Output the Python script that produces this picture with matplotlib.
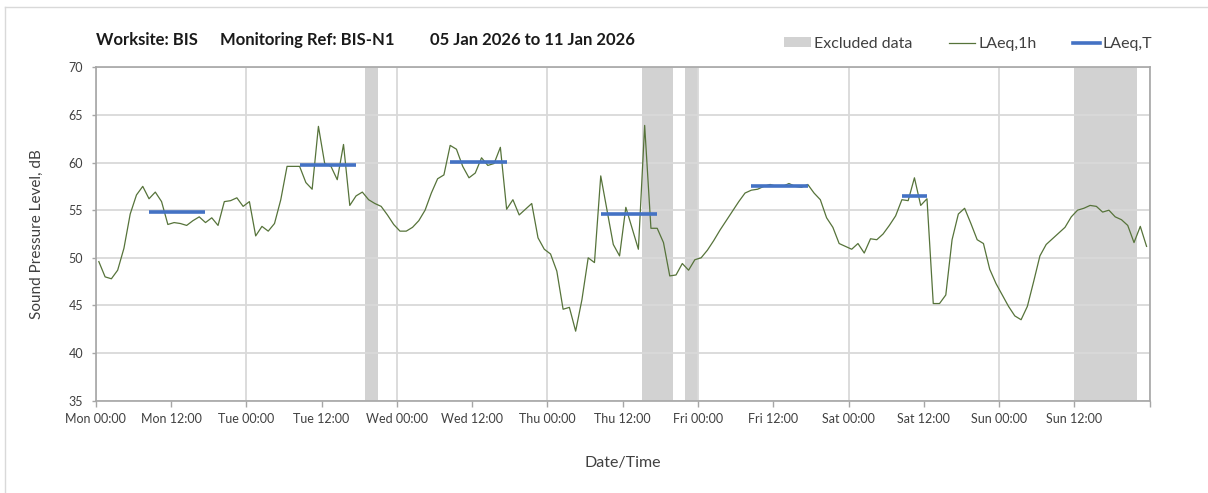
import matplotlib
matplotlib.use("Agg")
import matplotlib.pyplot as plt
from matplotlib.patches import Patch
from matplotlib.lines import Line2D
import numpy as np

plt.rcParams['font.family'] = ['Lato', 'DejaVu Sans']

# ---- data (hourly LAeq,1h, dB) ----
mon = [49.6, 48.0, 47.8, 48.7, 51.0, 54.6, 56.6, 57.5, 56.2, 56.9, 55.9, 53.5,
       53.7, 53.6, 53.4, 53.9, 54.3, 53.7, 54.2, 53.4, 55.9, 56.0, 56.3, 55.4]
tue = [55.9, 52.3, 53.3, 52.8, 53.6, 56.1, 59.6, 59.6, 59.6, 57.9, 57.2, 63.8,
       59.9, 59.6, 58.2, 61.9, 55.5, 56.5, 56.9, 56.1, 55.7, 55.4, 54.5, 53.5]
wed = [52.8, 52.8, 53.2, 53.9, 55.0, 56.8, 58.3, 58.7, 61.8, 61.4, 59.6, 58.4,
       58.9, 60.5, 59.7, 59.9, 61.6, 55.1, 56.1, 54.5, 55.1, 55.7, 52.1, 50.9]
thu = [50.4, 48.6, 44.6, 44.8, 42.3, 45.6, 50.0, 49.5, 58.6, 55.0, 51.4, 50.2,
       55.3, 53.1, 50.9, 63.9, 53.1, 53.1, 51.6, 48.1, 48.2, 49.4, 48.7, 49.8]
fri = [50.0, 50.8, 51.8, 52.9, 53.9, 54.9, 55.9, 56.8, 57.1, 57.2, 57.5, 57.7,
       57.5, 57.5, 57.8, 57.5, 57.4, 57.7, 56.8, 56.1, 54.2, 53.2, 51.5, 51.2]
sat = [50.9, 51.5, 50.5, 52.0, 51.9, 52.5, 53.4, 54.4, 56.1, 56.0, 58.4, 55.5,
       56.2, 45.2, 45.2, 46.1, 51.9, 54.6, 55.2, 53.6, 51.9, 51.5, 48.8, 47.3]
sun = [46.1, 44.9, 43.9, 43.5, 44.9, 47.5, 50.2, 51.4, 52.0, 52.6, 53.2, 54.3,
       55.0, 55.2, 55.5, 55.4, 54.8, 55.0, 54.3, 54.0, 53.4, 51.6, 53.3, 51.2]

# LAeq,T periods (start hour index, end hour index, level)
laeqT_start = [8, 32, 56, 80, 104, 128]
laeqT_end = [17, 41, 65, 89, 113, 132]
laeqT_value = [54.8, 59.7, 60.1, 54.6, 57.5, 56.5]

# excluded data periods (hours from Mon 00:00)
excl_start = [43, 87, 94, 156]
excl_end = [45, 92, 96, 166]

tick_labels = ["Mon 00:00", "Mon 12:00", "Tue 00:00", "Tue 12:00", "Wed 00:00",
               "Wed 12:00", "Thu 00:00", "Thu 12:00", "Fri 00:00", "Fri 12:00",
               "Sat 00:00", "Sat 12:00", "Sun 00:00", "Sun 12:00", ""]

laeq1h = np.array(mon + tue + wed + thu + fri + sat + sun)
hours = np.arange(len(laeq1h)) + 0.5

W, H = 1208, 493
fig = plt.figure(figsize=(W / 100, H / 100), dpi=100)
ax = fig.add_axes([95.7 / W, 1 - 400.7 / H, (1149.7 - 95.7) / W, (400.7 - 67.3) / H])

green = '#56733a'
blue = '#4472c4'
grey_band = '#d2d2d2'
grid_c = '#d9d9d9'
spine_c = '#a6a6a6'
text_c = '#404040'

for s, e in zip(excl_start, excl_end):
    ax.axvspan(s, e, color=grey_band, lw=0, zorder=0.3)

ax.plot(hours, laeq1h, color=green, lw=0.9, zorder=3)
for s, e, v in zip(laeqT_start, laeqT_end, laeqT_value):
    ax.plot([s + 0.5, e + 0.5], [v, v], color=blue, lw=2.6, solid_capstyle='butt', zorder=4)

ax.set_xlim(0, 168)
ax.set_ylim(35, 70)
ax.set_yticks(np.arange(35, 71, 5))
ax.set_xticks(np.arange(0, 169, 12))
ax.set_xticklabels(tick_labels)
ax.set_xticks(np.arange(0, 169, 24), minor=True)
ax.xaxis.remove_overlapping_locs = False

ax.set_axisbelow(True)
ax.grid(axis='y', which='major', color=grid_c, lw=1.3)
ax.grid(axis='x', which='minor', color=grid_c, lw=1.3)
ax.tick_params(axis='x', which='minor', length=0)
ax.tick_params(axis='both', which='major', direction='out', color=spine_c,
               labelsize=9, labelcolor=text_c, length=4, width=1)
ax.tick_params(axis='y', length=3, pad=6)
ax.tick_params(axis='x', pad=5)
for sp in ax.spines.values():
    sp.set_color(spine_c)
    sp.set_linewidth(1.2)

ax.set_ylabel("Sound Pressure Level, dB", fontsize=11, color=text_c, labelpad=18)
ax.set_xlabel("Date/Time", fontsize=11.5, color=text_c, labelpad=22)

# title parts
ty = 1 - 40 / H
tkw = dict(fontsize=12, fontweight='bold', color='#1a1a1a', va='center')
fig.text(96 / W, ty, "Worksite: BIS", **tkw)
fig.text(220 / W, ty, "Monitoring Ref: BIS-N1", **tkw)
fig.text(430 / W, ty, "05 Jan 2026 to 11 Jan 2026", **tkw)

handles = [Patch(facecolor=grey_band, edgecolor='none', label='Excluded data'),
           Line2D([], [], color=green, lw=0.9, label='LAeq,1h'),
           Line2D([], [], color=blue, lw=2.6, label='LAeq,T')]
leg = fig.legend(handles=handles, ncol=3, loc='center right',
                 bbox_to_anchor=(1159 / W, 1 - 44 / H), frameon=False,
                 fontsize=11.5, handlelength=1.65, handleheight=0.6,
                 handletextpad=0.2, columnspacing=2.3, borderaxespad=0)
for t in leg.get_texts():
    t.set_color(text_c)

# outer chart border (top and left visible)
fig.add_artist(Line2D([5 / W, 5 / W], [0, 1 - 7 / H], transform=fig.transFigure, color='#d9d9d9', lw=1))
fig.add_artist(Line2D([5 / W, 1], [1 - 7 / H, 1 - 7 / H], transform=fig.transFigure, color='#d9d9d9', lw=1))

fig.savefig("out.png", dpi=100)
